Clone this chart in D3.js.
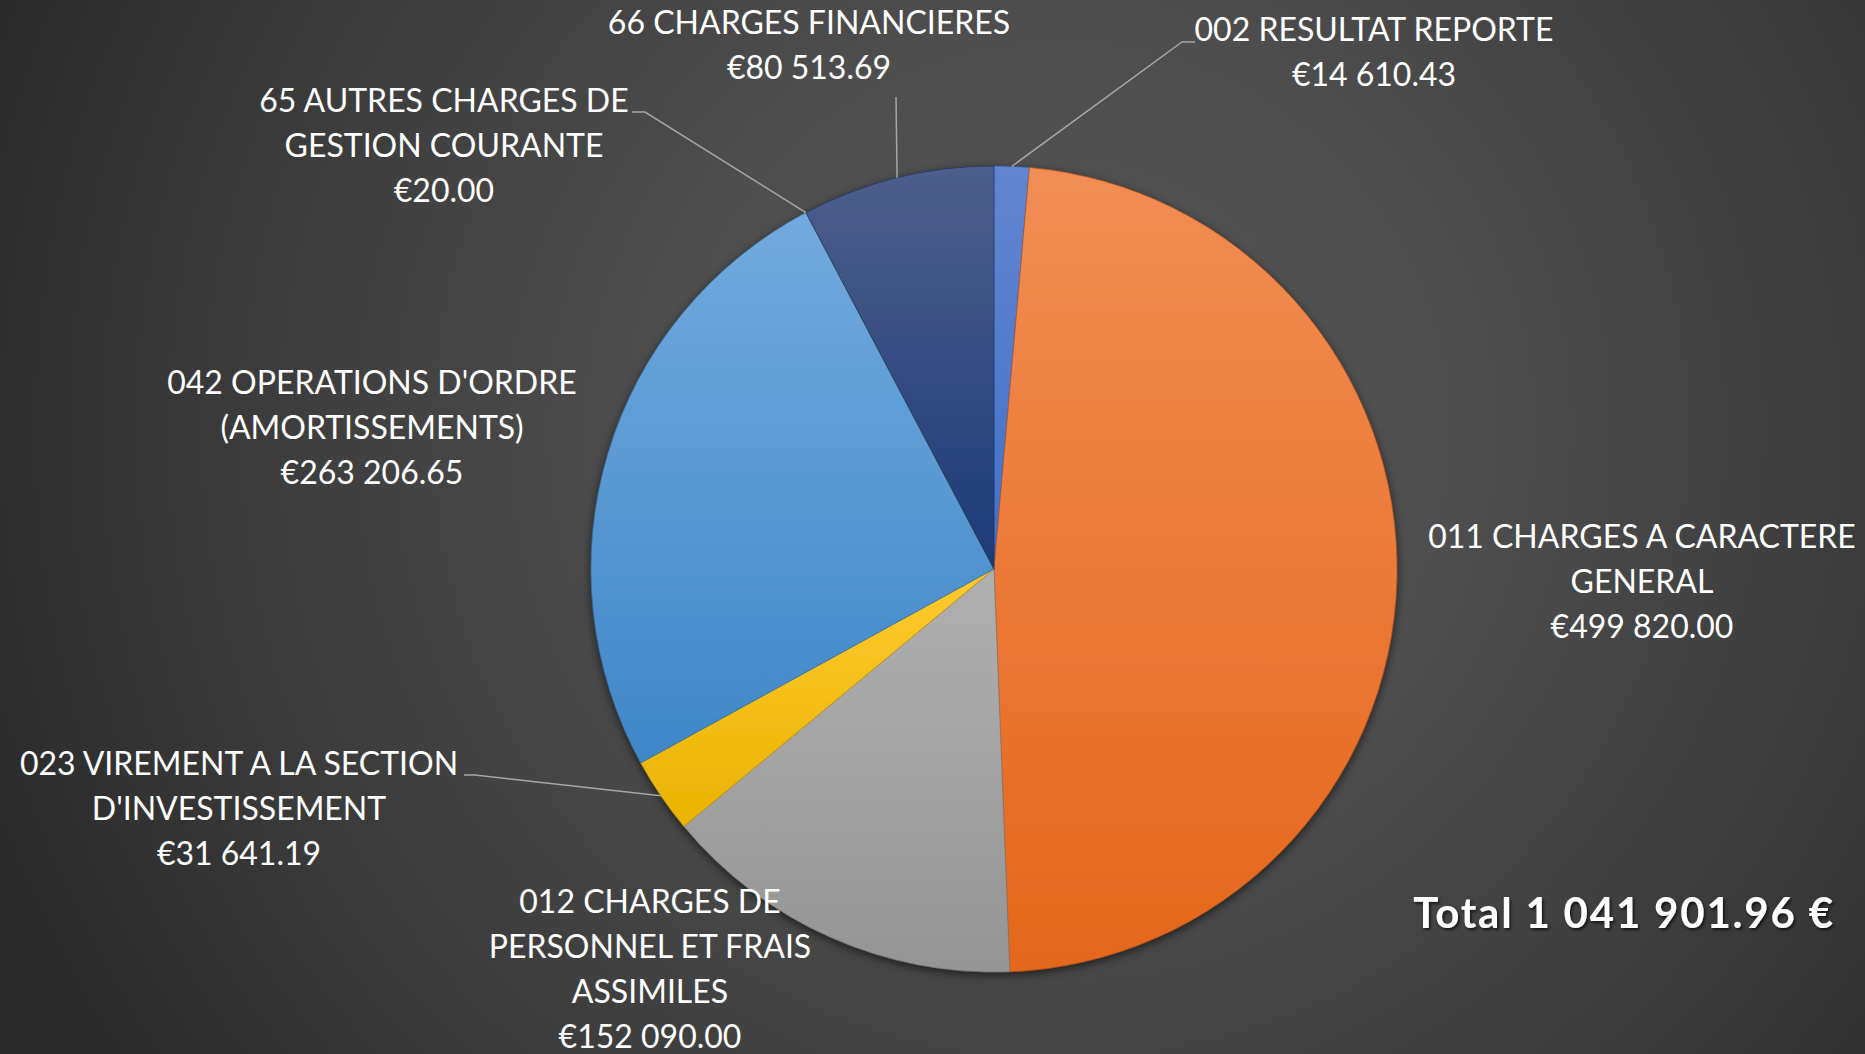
<!DOCTYPE html>
<html>
<head>
<meta charset="utf-8">
<script src="https://cdn.jsdelivr.net/npm/d3@7/dist/d3.min.js"></script>
<style>
  html, body { margin: 0; padding: 0; background: #3a3a3a; overflow: hidden; }
  svg { display: block; }
  text { font-family: Lato, "Open Sans", sans-serif; fill: #ffffff; }
</style>
</head>
<body>
<svg id="chart" width="1865" height="1054"></svg>
<script>
// Budget lines (section de fonctionnement, dépenses)
const codes = ["002", "011", "012", "023", "042", "65", "66"];
const categories = [
  "002 RESULTAT REPORTE",
  "011 CHARGES A CARACTERE GENERAL",
  "012 CHARGES DE PERSONNEL ET FRAIS ASSIMILES",
  "023 VIREMENT A LA SECTION D'INVESTISSEMENT",
  "042 OPERATIONS D'ORDRE (AMORTISSEMENTS)",
  "65 AUTRES CHARGES DE GESTION COURANTE",
  "66 CHARGES FINANCIERES"
];
const values = [14610.43, 499820.00, 152090.00, 31641.19, 263206.65, 20.00, 80513.69];
// Category names as they wrap inside the data labels
const labelLines = [
  ["002 RESULTAT REPORTE"],
  ["011 CHARGES A CARACTERE", "GENERAL"],
  ["012 CHARGES DE", "PERSONNEL ET FRAIS", "ASSIMILES"],
  ["023 VIREMENT A LA SECTION", "D'INVESTISSEMENT"],
  ["042 OPERATIONS D'ORDRE", "(AMORTISSEMENTS)"],
  ["65 AUTRES CHARGES DE", "GESTION COURANTE"],
  ["66 CHARGES FINANCIERES"]
];
const totalLabel = "Total 1 041 901.96 €";

// Office-style palette, light tint at top and shade at bottom of each slice
const sliceTop    = ["#6286d0", "#f28d55", "#b0b0b0", "#ffca30", "#72aade", "#7fb95a", "#4e5e8c"];
const sliceBottom = ["#4170c8", "#e4671a", "#959595", "#e9b300", "#3f87c8", "#5f9c3a", "#1d3a79"];

const W = 1865, H = 1054;
const cx = 994, cy = 569, R = 403;

const svg = d3.select("#chart");
const defs = svg.append("defs");

// background: radial grey gradient
const bg = defs.append("radialGradient").attr("id", "bg")
  .attr("gradientUnits", "userSpaceOnUse")
  .attr("cx", 1060).attr("cy", 430).attr("r", 1150);
bg.append("stop").attr("offset", 0).attr("stop-color", "#545454");
bg.append("stop").attr("offset", 0.35).attr("stop-color", "#4e4e4e");
bg.append("stop").attr("offset", 0.75).attr("stop-color", "#393939");
bg.append("stop").attr("offset", 1).attr("stop-color", "#2a2a2a");
svg.append("rect").attr("width", W).attr("height", H).attr("fill", "url(#bg)");

// slice gradients
codes.forEach((c, i) => {
  const g = defs.append("linearGradient").attr("id", "grad" + i)
    .attr("x1", 0).attr("y1", 0).attr("x2", 0).attr("y2", 1);
  g.append("stop").attr("offset", 0).attr("stop-color", sliceTop[i]);
  g.append("stop").attr("offset", 1).attr("stop-color", sliceBottom[i]);
});

// soft shadow under the pie
const sh = defs.append("filter").attr("id", "pieShadow")
  .attr("x", "-10%").attr("y", "-10%").attr("width", "120%").attr("height", "120%");
sh.append("feDropShadow").attr("dx", 0).attr("dy", 3).attr("stdDeviation", 5)
  .attr("flood-color", "#000").attr("flood-opacity", 0.6);

const tsh = defs.append("filter").attr("id", "textShadow")
  .attr("x", "-10%").attr("y", "-30%").attr("width", "120%").attr("height", "160%");
tsh.append("feDropShadow").attr("dx", 1.5).attr("dy", 2).attr("stdDeviation", 1.8)
  .attr("flood-color", "#000").attr("flood-opacity", 0.7);

const rows = codes.map((c, i) => ({ code: c, name: categories[i], value: values[i], lines: labelLines[i], i }));

const pie = d3.pie().sort(null).value(d => d.value).startAngle(0).endAngle(2 * Math.PI);
const arcs = pie(rows);
const arc = d3.arc().innerRadius(0).outerRadius(R);

const gPie = svg.append("g").attr("transform", `translate(${cx},${cy})`).attr("filter", "url(#pieShadow)");
gPie.selectAll("path").data(arcs).join("path")
  .attr("d", arc)
  .attr("fill", d => `url(#grad${d.data.i})`)
  .attr("stroke", d => d3.color(sliceBottom[d.data.i]).darker(0.6))
  .attr("stroke-width", 0.6)
  .attr("stroke-linejoin", "round");

// point on the rim at the middle of a slice
function rimPoint(d) {
  const a = (d.startAngle + d.endAngle) / 2;
  return [cx + R * Math.sin(a), cy - R * Math.cos(a)];
}

const fmt = d3.formatLocale({ decimal: ".", thousands: " ", grouping: [3], currency: ["€", ""] }).format("$,.2f");

// label placement: centre x and first baseline
const labelAnchor = {
  "002": [1374, 41],
  "011": [1642, 548],
  "012": [650, 913],
  "023": [239, 775],
  "042": [372, 394],
  "65":  [444, 112],
  "66":  [809, 34]
};
const lineGap = 45;

// leader line elbows (from rim towards the label)
const leaderElbow = {
  "002": [[1182, 42], [1195, 42]],
  "65":  [[645, 112], [632, 112]],
  "023": [[475, 775], [464, 775]],
  "66":  [[896, 97]]
};

const gLines = svg.append("g");
arcs.forEach(d => {
  const el = leaderElbow[d.data.code];
  if (!el) return;
  const pts = [rimPoint(d)].concat(el);
  gLines.append("path")
    .attr("d", d3.line()(pts))
    .attr("fill", "none")
    .attr("stroke", "#a6a6a6")
    .attr("stroke-width", 1.5);
});

const gLabels = svg.append("g");
arcs.forEach(d => {
  const [x, y] = labelAnchor[d.data.code];
  const t = gLabels.append("text")
    .attr("text-anchor", "middle")
    .attr("font-size", 32);
  const all = d.data.lines.concat([fmt(d.data.value)]);
  all.forEach((s, k) => {
    t.append("tspan").attr("x", x).attr("y", y + k * lineGap).text(s);
  });
});

svg.append("text")
  .attr("x", 1624).attr("y", 928)
  .attr("text-anchor", "middle")
  .attr("font-size", 42)
  .attr("font-weight", 700)
  .attr("letter-spacing", 1.8)
  .attr("filter", "url(#textShadow)")
  .text(totalLabel);
</script>
</body>
</html>
